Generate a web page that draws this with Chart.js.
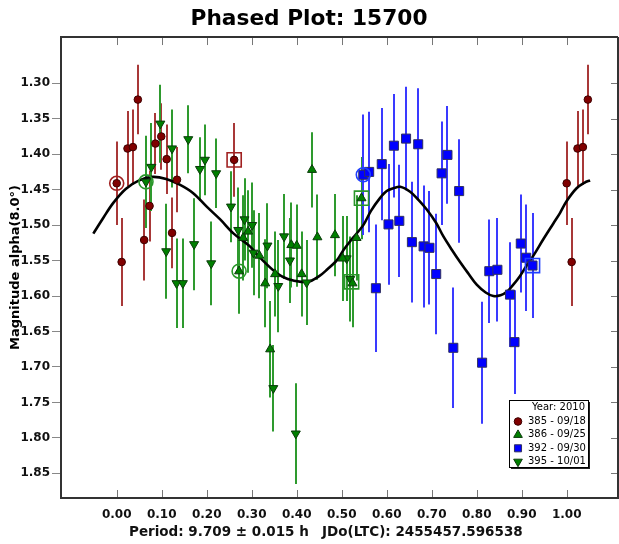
<!DOCTYPE html>
<html>
<head>
<meta charset="utf-8">
<script src="https://cdn.jsdelivr.net/npm/chart.js@4.4.1/dist/chart.umd.min.js"></script>
<style>
    html, body { margin: 0; padding: 0; background: #ffffff; }
    #wrap { width: 619px; height: 544px; }
</style>
</head>
<body>
<div id="wrap"><canvas id="phasedPlot" width="619" height="544"></canvas></div>
<script>
// ---- dados ----
const xTicks = [0.0, 0.1, 0.2, 0.3, 0.4, 0.5, 0.6, 0.7, 0.8, 0.9, 1.0];
const yTicks = [1.30, 1.35, 1.40, 1.45, 1.50, 1.55, 1.60, 1.65, 1.70, 1.75, 1.80, 1.85];

// sessão 385 - 09/18 (com repetição após fase 1.0)
const s385X = [0.000, 0.011, 0.024, 0.036, 0.047, 0.061, 0.073, 0.086, 0.099, 0.111, 0.123, 0.134, 0.261,
               1.000, 1.011, 1.024, 1.036, 1.047];
const s385Y = [1.441, 1.552, 1.392, 1.390, 1.323, 1.521, 1.473, 1.385, 1.375, 1.407, 1.511, 1.436, 1.408,
               1.441, 1.552, 1.392, 1.390, 1.323];
const s385E = [0.059, 0.062, 0.053, 0.053, 0.049, 0.057, 0.050, 0.043, 0.047, 0.049, 0.050, 0.046, 0.052,
               0.059, 0.062, 0.053, 0.053, 0.049];

// sessão 386 - 09/25
const s386X = [0.272, 0.281, 0.292, 0.317, 0.330, 0.341, 0.352, 0.388, 0.400, 0.411, 0.434, 0.446, 0.485,
               0.502, 0.524, 0.533, 0.544];
const s386Y = [1.565, 1.518, 1.509, 1.543, 1.582, 1.675, 1.569, 1.528, 1.529, 1.569, 1.422, 1.517, 1.514,
               1.547, 1.582, 1.518, 1.462];
const s386E = [0.060, 0.060, 0.058, 0.060, 0.062, 0.068, 0.060, 0.060, 0.058, 0.060, 0.053, 0.060, 0.058,
               0.060, 0.062, 0.060, 0.058];

// sessão 392 - 09/30
const s392X = [0.548, 0.561, 0.576, 0.589, 0.604, 0.616, 0.628, 0.643, 0.656, 0.670, 0.682, 0.695, 0.710,
               0.722, 0.735, 0.748, 0.761, 0.812, 0.828, 0.846, 0.874, 0.884, 0.898, 0.910, 0.924];
const s392Y = [1.429, 1.425, 1.589, 1.414, 1.499, 1.388, 1.494, 1.378, 1.524, 1.386, 1.530, 1.532, 1.569,
               1.427, 1.401, 1.673, 1.452, 1.694, 1.565, 1.563, 1.598, 1.665, 1.526, 1.546, 1.557];
const s392E = [0.085, 0.085, 0.090, 0.079, 0.085, 0.073, 0.079, 0.073, 0.085, 0.079, 0.086, 0.080, 0.085,
               0.073, 0.069, 0.085, 0.073, 0.086, 0.073, 0.073, 0.074, 0.073, 0.069, 0.075, 0.074];

// sessão 395 - 10/01
const s395X = [0.065, 0.077, 0.097, 0.110, 0.123, 0.133, 0.147, 0.159, 0.172, 0.185, 0.196, 0.210, 0.221,
               0.254, 0.270, 0.284, 0.301, 0.304, 0.335, 0.348, 0.359, 0.372, 0.385, 0.398, 0.422, 0.511, 0.519];
const s395Y = [1.439, 1.418, 1.357, 1.537, 1.392, 1.582, 1.582, 1.379, 1.527, 1.421, 1.408, 1.554, 1.427,
               1.474, 1.507, 1.492, 1.500, 1.539, 1.529, 1.730, 1.586, 1.516, 1.550, 1.794, 1.581, 1.547, 1.576];
const s395E = [0.065, 0.062, 0.055, 0.067, 0.055, 0.063, 0.063, 0.048, 0.065, 0.045, 0.050, 0.059, 0.049,
               0.050, 0.060, 0.058, 0.060, 0.060, 0.060, 0.061, 0.065, 0.060, 0.060, 0.071, 0.060, 0.060, 0.060];

// início (círculo) e fim (quadrado) de cada sessão: 385, 386, 392, 395
const startX = [0.000, 0.272, 0.548, 0.065];
const startY = [1.441, 1.565, 1.429, 1.439];
const endX = [0.261, 0.544, 0.924, 0.522];
const endY = [1.408, 1.462, 1.557, 1.580];

// curva de ajuste (Fourier)
const curveX = [-0.052, -0.030, -0.008, 0.020, 0.050, 0.080, 0.110, 0.140, 0.170, 0.200, 0.230, 0.260, 0.296,
                0.320, 0.356, 0.380, 0.410, 0.430, 0.450, 0.467, 0.490, 0.504, 0.525, 0.548, 0.565, 0.585,
                0.600, 0.615, 0.630, 0.652, 0.670, 0.689, 0.710, 0.726, 0.745, 0.763, 0.780, 0.800, 0.820,
                0.837, 0.853, 0.867, 0.880, 0.896, 0.910, 0.926, 0.948, 0.970, 0.985, 1.000, 1.022, 1.040, 1.052];
const curveY = [1.512, 1.490, 1.469, 1.449, 1.437, 1.432, 1.435, 1.443, 1.455, 1.474, 1.492, 1.512, 1.530,
                1.547, 1.568, 1.576, 1.580, 1.579, 1.572, 1.563, 1.549, 1.535, 1.518, 1.500, 1.480, 1.462,
                1.452, 1.448, 1.446, 1.453, 1.464, 1.478, 1.497, 1.516, 1.535, 1.552, 1.567, 1.584, 1.595,
                1.600, 1.599, 1.594, 1.585, 1.572, 1.558, 1.543, 1.520, 1.498, 1.483, 1.466, 1.448, 1.440, 1.437];

const legendTitle = "Year: 2010";
const legendLabels = ["385 - 09/18", "386 - 09/25", "392 - 09/30", "395 - 10/01"];

const FONT = "DejaVu Sans";

function toPoints(xs, ys) {
    return xs.map((x, i) => ({ x: x, y: ys[i] }));
}

// séries: cor do marcador, cor da barra de erro, estilo
const seriesConfig = [
    { label: legendLabels[0], x: s385X, y: s385Y, e: s385E, color: "#800000", edge: "#3c0000", bar: "#a83838", style: "circle", radius: 3.8, rotation: 0 },
    { label: legendLabels[1], x: s386X, y: s386Y, e: s386E, color: "#008000", edge: "#0a3a0a", bar: "#2e9a2e", style: "triangle", radius: 5.2, rotation: 0 },
    { label: legendLabels[2], x: s392X, y: s392Y, e: s392E, color: "#0000ff", edge: "#303060", bar: "#3a3aff", style: "rect", radius: 6.4, rotation: 0 },
    { label: legendLabels[3], x: s395X, y: s395Y, e: s395E, color: "#008000", edge: "#0a3a0a", bar: "#2e9a2e", style: "triangle", radius: 5.2, rotation: 180 },
];
const ringColors = ["#a02020", "#2a962a", "#2040ff", "#2a962a"];

const datasets = [];

seriesConfig.forEach((s, i) => {
    datasets.push({
        label: "start " + s.label,
        data: [{ x: startX[i], y: startY[i] }],
        pointStyle: "circle",
        pointRadius: 7,
        pointBackgroundColor: "rgba(0,0,0,0)",
        pointBorderColor: ringColors[i],
        pointBorderWidth: 1.6,
        order: 0,
    });
    datasets.push({
        label: "end " + s.label,
        data: [{ x: endX[i], y: endY[i] }],
        pointStyle: "rect",
        pointRadius: 10,
        pointBackgroundColor: "rgba(0,0,0,0)",
        pointBorderColor: ringColors[i],
        pointBorderWidth: 1.6,
        order: 0,
    });
});

seriesConfig.forEach((s, i) => {
    datasets.push({
        label: s.label,
        data: toPoints(s.x, s.y),
        errors: s.e,
        errorColor: s.bar,
        pointStyle: s.style,
        pointRotation: s.rotation,
        pointRadius: s.radius,
        pointBackgroundColor: s.color,
        pointBorderColor: s.edge,
        pointBorderWidth: 1,
        order: 1 + i,
    });
});

datasets.push({
    type: "line",
    label: "fit",
    data: toPoints(curveX, curveY),
    borderColor: "#000000",
    borderWidth: 2.6,
    pointRadius: 0,
    tension: 0.35,
    fill: false,
    order: 10,
});

// =============== BARRAS DE ERRO ===============
const errorBarPlugin = {
    id: "errorBars",
    beforeDatasetsDraw(chart) {
        const { ctx, chartArea, scales } = chart;
        ctx.save();
        ctx.beginPath();
        ctx.rect(chartArea.left, chartArea.top, chartArea.right - chartArea.left, chartArea.bottom - chartArea.top);
        ctx.clip();
        ctx.lineWidth = 2;
        chart.data.datasets.forEach((ds) => {
            if (!ds.errors) return;
            ctx.strokeStyle = ds.errorColor;
            ds.data.forEach((p, j) => {
                const px = Math.round(scales.x.getPixelForValue(p.x));
                ctx.beginPath();
                ctx.moveTo(px, scales.y.getPixelForValue(p.y - ds.errors[j]));
                ctx.lineTo(px, scales.y.getPixelForValue(p.y + ds.errors[j]));
                ctx.stroke();
            });
        });
        ctx.restore();
    },
};

// =============== MOLDURA E TICKS INTERNOS ===============
const framePlugin = {
    id: "frame",
    afterDraw(chart) {
        const { ctx, chartArea: a, scales } = chart;
        ctx.save();
        ctx.strokeStyle = "#333333";
        ctx.lineWidth = 2;
        ctx.beginPath();
        ctx.moveTo(a.left, a.top);
        ctx.lineTo(a.right, a.top);
        ctx.moveTo(a.right, a.top);
        ctx.lineTo(a.right, a.bottom);
        ctx.stroke();

        ctx.strokeStyle = "#777777";
        ctx.lineWidth = 1;
        ctx.beginPath();
        xTicks.forEach((v) => {
            const px = Math.round(scales.x.getPixelForValue(v)) + 0.5;
            ctx.moveTo(px, a.bottom - 1);
            ctx.lineTo(px, a.bottom - 8);
            ctx.moveTo(px, a.top + 1);
            ctx.lineTo(px, a.top + 8);
        });
        yTicks.forEach((v) => {
            const py = Math.round(scales.y.getPixelForValue(v)) + 0.5;
            ctx.moveTo(a.right - 1, py);
            ctx.lineTo(a.right - 7, py);
        });
        ctx.stroke();
        ctx.restore();
    },
};

// =============== LEGENDA ===============
const legendPlugin = {
    id: "legendBox",
    afterDraw(chart) {
        const ctx = chart.ctx;
        const bx = 509, by = 400, bw = 79, bh = 67;
        ctx.save();
        ctx.fillStyle = "#222222";
        ctx.fillRect(bx + 2, by + 2, bw, bh);
        ctx.fillStyle = "#ffffff";
        ctx.fillRect(bx, by, bw, bh);
        ctx.strokeStyle = "#000000";
        ctx.lineWidth = 1;
        ctx.strokeRect(bx + 0.5, by + 0.5, bw, bh);

        ctx.font = "10px " + FONT;
        ctx.textBaseline = "middle";
        ctx.fillStyle = "#000000";
        ctx.textAlign = "right";
        ctx.fillText(legendTitle, bx + bw - 3, by + 7);
        ctx.textAlign = "left";
        seriesConfig.forEach((s, i) => {
            const yy = by + 21.5 + i * 13.4;
            ctx.fillStyle = s.color;
            ctx.strokeStyle = s.edge;
            ctx.lineWidth = 1;
            Chart.helpers.drawPoint(ctx, { pointStyle: s.style, rotation: s.rotation, radius: s.style === "circle" ? 3.8 : 5, borderWidth: 1 }, bx + 9, yy);
            ctx.fillStyle = "#000000";
            ctx.fillText(s.label, bx + 19, yy);
        });
        ctx.restore();
    },
};

// =============== TEXTO DO RODAPÉ ===============
const footerPlugin = {
    id: "footerText",
    afterDraw(chart) {
        const ctx = chart.ctx;
        ctx.save();
        ctx.font = "bold 13.5px " + FONT;
        ctx.fillStyle = "#111111";
        ctx.textBaseline = "middle";
        ctx.textAlign = "left";
        ctx.fillText("Period: 9.709 \u00b1 0.015 h", 129, 532);
        ctx.fillText("JDo(LTC): 2455457.596538", 322, 532);
        ctx.restore();
    },
};

new Chart(document.getElementById("phasedPlot").getContext("2d"), {
    type: "scatter",
    data: { datasets: datasets },
    options: {
        responsive: false,
        animation: false,
        events: [],
        layout: { autoPadding: false, padding: { left: 0, right: 1, top: 0, bottom: 0 } },
        plugins: {
            legend: { display: false },
            tooltip: { enabled: false },
            title: {
                display: true,
                text: "Phased Plot: 15700",
                color: "#000000",
                font: { family: FONT, weight: "bold", size: 21.7 },
                padding: { top: 6.5, bottom: 4.5 },
            },
        },
        scales: {
            x: {
                type: "linear",
                min: -0.1238,
                max: 1.114,
                afterBuildTicks: (scale) => { scale.ticks = xTicks.map((v) => ({ value: v })); },
                afterFit: (scale) => {
                    scale.height = 46;
                    scale.paddingLeft = 0;
                    scale.paddingRight = 0;
                },
                grid: { display: false, drawTicks: false },
                border: { display: true, color: "#333333", width: 2 },
                ticks: {
                    padding: 10,
                    color: "#111111",
                    font: { family: FONT, weight: "bold", size: 12 },
                    callback: (v) => Number(v).toFixed(2),
                },
            },
            y: {
                type: "linear",
                reverse: true,
                min: 1.2348,
                max: 1.8848,
                afterBuildTicks: (scale) => { scale.ticks = yTicks.map((v) => ({ value: v })); },
                afterFit: (scale) => {
                    scale.width = 61;
                    scale.paddingTop = 0;
                    scale.paddingBottom = 0;
                },
                grid: { drawOnChartArea: false, drawTicks: true, tickLength: 9, color: "#888888" },
                border: { display: true, color: "#333333", width: 2 },
                ticks: {
                    padding: 2,
                    color: "#111111",
                    font: { family: FONT, weight: "bold", size: 12 },
                    callback: (v) => Number(v).toFixed(2),
                },
                title: {
                    display: true,
                    text: "Magnitude alpha(8.0\u00b0)",
                    color: "#000000",
                    font: { family: FONT, weight: "bold", size: 13 },
                    padding: { top: 8, bottom: 0 },
                },
            },
        },
    },
    plugins: [errorBarPlugin, framePlugin, legendPlugin, footerPlugin],
});
</script>
</body>
</html>
